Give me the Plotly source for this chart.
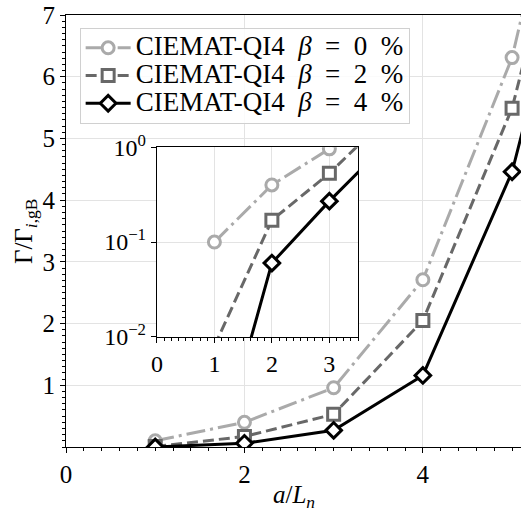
import plotly.graph_objects as go

# Data
a_Ln = [1, 2, 3, 4, 5, 6]
beta0 = [0.10, 0.40, 0.96, 2.71, 6.31, 12.5]
beta2 = [0.008, 0.17, 0.53, 2.05, 5.49, 11.2]
beta4 = [0.0004, 0.06, 0.27, 1.16, 4.46, 10.1]
beta_pct = ["0", "2", "4"]
labels = ["CIEMAT-QI4\u2002<i>β</i>\u2002=\u2002" + b + "\u2002%" for b in beta_pct]
colors = ["#aaaaaa", "#686868", "#000000"]
symbols = ["circle", "square", "diamond"]
dashes = ["19px,5px,3px,5px", "11px,5px", "solid"]
series = [beta0, beta2, beta4]

main_yticks = [1, 2, 3, 4, 5, 6, 7]
main_xticks = [0, 2, 4]
inset_xticks = [0, 1, 2, 3]
inset_yticks = [1, 0.1, 0.01]
inset_yticktext = ["10<sup>0</sup>", "10<sup>−1</sup>", "10<sup>−2</sup>"]

FONT = "Liberation Serif"
fig = go.Figure()

for ys, lab, c, s, d in zip(series, labels, colors, symbols, dashes):
    fig.add_trace(go.Scatter(
        x=a_Ln, y=ys, name='<span style="font-size:27px">' + lab + '</span>',
        mode="lines+markers",
        line=dict(color=c, width=3, dash=d),
        marker=dict(symbol=s, size=12, color="white", line=dict(color=c, width=3)),
        xaxis="x", yaxis="y", cliponaxis=True,
    ))
for ys, lab, c, s, d in zip(series, labels, colors, symbols, dashes):
    fig.add_trace(go.Scatter(
        x=a_Ln, y=ys, name=lab, mode="lines+markers", showlegend=False,
        line=dict(color=c, width=3, dash=d),
        marker=dict(symbol=s, size=12, color="white", line=dict(color=c, width=3)),
        xaxis="x2", yaxis="y2", cliponaxis=True,
    ))

grid = "#e3e3e3"
fig.update_layout(
    width=521, height=517,
    margin=dict(l=66, r=0, t=15, b=70),
    paper_bgcolor="white", plot_bgcolor="white",
    font=dict(family=FONT, size=24, color="black"),
    showlegend=True,
    legend=dict(x=0.03, y=0.97, xanchor="left", yanchor="top", itemwidth=45,
                bgcolor="rgba(255,255,255,0.85)", bordercolor="#d0d0d0", borderwidth=1,
                font=dict(family=FONT, size=19), tracegroupgap=0),
    xaxis=dict(domain=[0, 1], range=[0, 5.1], tickvals=main_xticks, automargin=False,
               showgrid=True, gridcolor=grid, gridwidth=1,
               showline=True, linecolor="black", linewidth=1.2, mirror=True,
               ticks="outside", ticklen=5, tickwidth=1, tickcolor="black",
               minor=dict(dtick=0.2, ticks="outside", ticklen=3, tickcolor="black", showgrid=False),
               zeroline=False, tickfont=dict(size=25)),
    yaxis=dict(domain=[0, 1], range=[0, 7], tickvals=main_yticks, automargin=False,
               showgrid=True, gridcolor=grid, gridwidth=1,
               showline=True, linecolor="black", linewidth=1.2, mirror=False,
               ticks="outside", ticklen=5, tickwidth=1, tickcolor="black",
               minor=dict(dtick=0.1, ticks="outside", ticklen=3, tickcolor="black", showgrid=False),
               zeroline=False, tickfont=dict(size=25)),
    xaxis2=dict(domain=[0.1998, 0.642], anchor="y2", range=[0, 3.5], tickvals=inset_xticks,
                automargin=False,
                showgrid=True, gridcolor=grid, gridwidth=1,
                showline=True, linecolor="black", linewidth=1.2, mirror=True,
                ticks="outside", ticklen=5, tickwidth=1, tickcolor="black",
                minor=dict(dtick=0.125, ticks="outside", ticklen=3, tickcolor="black", showgrid=False),
                zeroline=False, tickfont=dict(size=24)),
    yaxis2=dict(domain=[0.2548, 0.694], anchor="x2", type="log", range=[-2, 0],
                tickvals=inset_yticks, ticktext=inset_yticktext, automargin=False,
                showgrid=True, gridcolor=grid, gridwidth=1,
                showline=True, linecolor="black", linewidth=1.2, mirror=True,
                ticks="outside", ticklen=5, tickwidth=1, tickcolor="black",
                zeroline=False, tickfont=dict(size=24)),
    annotations=[
        dict(text="<i>a</i>/<i>L</i><sub><i>n</i></sub>", xref="paper", yref="paper",
             x=0.5, y=-0.115, xanchor="center", yanchor="middle", showarrow=False,
             font=dict(size=25)),
        dict(text="Γ/Γ<sub><i>i</i>,gB</sub>", xref="paper", yref="paper",
             x=-0.09, y=0.5, xanchor="center", yanchor="middle", showarrow=False,
             textangle=-90, font=dict(size=25)),
    ],
)

fig.write_html("out.html", config={"displayModeBar": False},
               post_script="document.body.style.margin='0';")
